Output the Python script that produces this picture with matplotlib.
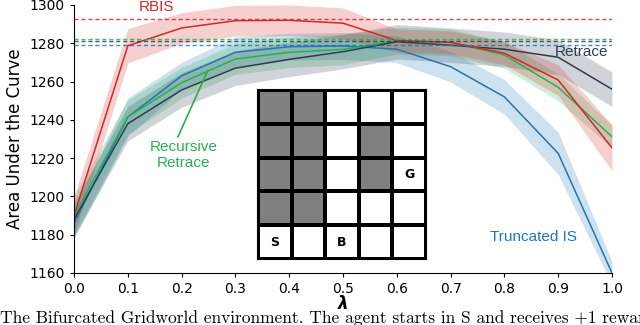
import numpy as np
import matplotlib
matplotlib.use("Agg")
import matplotlib.pyplot as plt

lam = [0.0, 0.1, 0.2, 0.3, 0.4, 0.5, 0.6, 0.7, 0.8, 0.9, 1.0]

# mean curves and half-widths of the shaded bands
rbis = [1190, 1278.7, 1288, 1291.8, 1292, 1290.5, 1281.4, 1280.5, 1274.8, 1260.8, 1225.4]
rbis_err = [10, 9, 8, 8, 8, 8, 6, 6, 6, 8, 12]
tis = [1186, 1241.5, 1263, 1275.3, 1278.2, 1278.6, 1276.9, 1267.8, 1252, 1222.5, 1160]
tis_err = [8, 10, 7, 8, 7, 7, 7, 8, 9, 11, 6]
rret = [1190, 1241.5, 1259.4, 1271.8, 1275.3, 1276.8, 1281.4, 1280.5, 1273.9, 1257, 1231.2]
rret_err = [10, 9, 8, 8, 8, 8, 7, 7, 7, 7, 6]
ret = [1188, 1238, 1255.6, 1267, 1271.6, 1275.6, 1280.8, 1279, 1276.9, 1272.7, 1256]
ret_err = [9, 9, 9, 9, 9, 9, 9, 9, 9, 9, 9]

# best values (dashed lines)
best = {"rbis": 1292.5, "rret": 1282.2, "ret": 1281.3, "tis": 1279.1}

c_red = "#d62728"
c_blue = "#1f77b4"
c_green = "#26b14f"
c_dark = "#2c3e50"

# gridworld: 1 = wall
grid = [[1, 1, 0, 0, 0],
        [1, 1, 0, 1, 0],
        [1, 1, 0, 1, 0],
        [1, 1, 0, 0, 0],
        [0, 0, 0, 0, 0]]
cell_text = {(4, 0): "S", (4, 2): "B", (2, 4): "G"}

caption = "The Bifurcated Gridworld environment. The agent starts in S and receives +1 reward"

fig = plt.figure(figsize=(6.4, 3.25), dpi=100)
ax = fig.add_axes([74/640, 1-273/325, 538/640, 268/325])

series = [(tis, tis_err, c_blue), (rret, rret_err, c_green),
          (ret, ret_err, c_dark), (rbis, rbis_err, c_red)]
for m, e, c in series:
    m = np.array(m)
    e = np.array(e)
    ax.fill_between(lam, m-e, m+e, color=c, alpha=0.22, lw=0)
for m, e, c in series:
    ax.plot(lam, m, color=c, lw=1.1)

for k, c in [("rbis", c_red), ("rret", c_green), ("ret", c_dark), ("tis", c_blue)]:
    ax.axhline(best[k], color=c, ls="--", lw=1.0, alpha=0.85, dashes=(3, 2))

ax.set_xlim(0, 1)
ax.set_ylim(1160, 1300)
ax.set_xticks(np.arange(0, 1.01, 0.1))
ax.set_yticks(np.arange(1160, 1301, 20))
ax.tick_params(labelsize=10, length=3)
ax.spines["top"].set_visible(False)
ax.spines["right"].set_visible(False)
ax.set_ylabel("Area Under the Curve", fontsize=12)
ax.set_xlabel("λ", fontsize=12, fontweight="bold", fontstyle="italic", labelpad=-1)

lab = dict(family="Liberation Sans", fontsize=11)
ax.text(0.154, 1299, "RBIS", color=c_red, ha="center", va="center", **lab)
ax.text(0.943, 1275.5, "Retrace", color=c_dark, ha="center", va="center", **lab)
ax.text(0.855, 1179, "Truncated IS", color=c_blue, ha="center", va="center", **lab)
ax.text(0.203, 1221.5, "Recursive\nRetrace", color=c_green, ha="center", va="center", **lab)
ax.annotate("", xy=(0.249, 1266), xytext=(0.193, 1231),
            arrowprops=dict(arrowstyle="-", color=c_green, lw=1.2, shrinkA=0, shrinkB=0))

# gridworld inset
ins = fig.add_axes([258/640, 1-259/325, 168/640, 169/325])
g = np.array(grid)[::-1]
ins.pcolormesh(g, cmap=matplotlib.colors.ListedColormap(["white", "#808080"]),
               edgecolors="black", linewidth=1.5)
for (r, cc), t in cell_text.items():
    ins.text(cc+0.5, 4-r+0.5, t, ha="center", va="center", fontsize=9, fontweight="bold")
ins.set_xlim(0, 5)
ins.set_ylim(0, 5)
ins.set_xticks([])
ins.set_yticks([])
for s in ins.spines.values():
    s.set_linewidth(1.5)

fig.text(0.0, 2/325, caption, family="cmr10", fontsize=12.5, ha="left", va="baseline")

fig.savefig("out.png", dpi=100)
